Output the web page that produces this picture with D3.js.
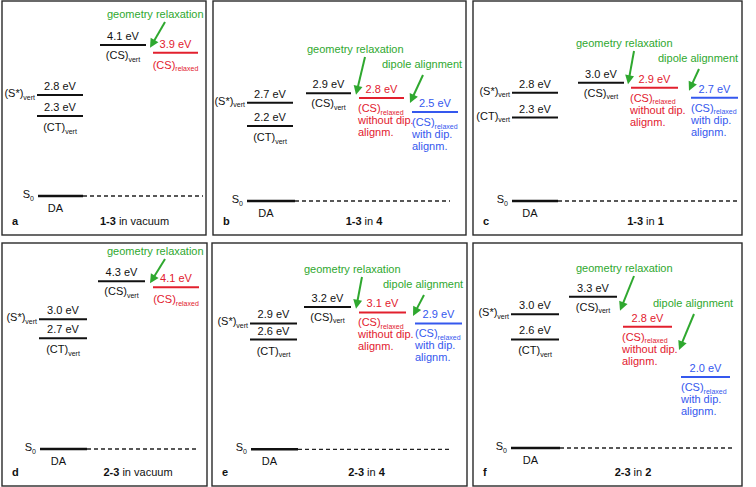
<!DOCTYPE html>
<html><head><meta charset="utf-8">
<script src="https://cdn.jsdelivr.net/npm/d3@7"></script>
<style>
body{margin:0;background:#fff}
svg{display:block}
text{font-family:"Liberation Sans", Arial, Helvetica, sans-serif;}
</style>
</head><body>
<svg id="chart" width="756" height="487"></svg>
<script>
// ---- data ----
const panelIds = ["a","b","c","d","e","f"];
const captionSystem = ["1-3","1-3","1-3","2-3","2-3","2-3"];
const captionMedium = ["vacuum","4","1","vacuum","4","2"];
const groundState = [0,0,0,0,0,0];
const sVert = [2.8,2.7,2.8,3.0,2.9,3.0];
const ctVert = [2.3,2.2,2.3,2.7,2.6,2.6];
const csVert = [4.1,2.9,3.0,4.3,3.2,3.3];
const csRelaxed = [3.9,2.8,2.9,4.1,3.1,2.8];
const csDipole = [null,2.5,2.7,null,2.9,2.0];
const energyBreaks = [0,2,3,4.5];

// ---- layout (per panel) ----
const layout = [
 {frame:[2,1,206,235], yr:[196,128.6,86.6,30], s0:[38,83,203], sc:[37,83], csv:[100,146], red:[153,198], blue:null, capX:134.5, ctLeft:false, geo:[107,18], dip:null},
 {frame:[213,1,466,235], yr:[201,135.4,88.7,28.7], s0:[247,295,450], sc:[247,293], csv:[306,351], red:[359,404], blue:[412,458], capX:364, ctLeft:false, geo:[307,53], dip:[382,68]},
 {frame:[473,1,742,235], yr:[201,132.4,82.8,22], s0:[512,558,738], sc:[512,558], csv:[578,624], red:[631,678], blue:[691,738], capX:645.5, ctLeft:true, geo:[576,47], dip:[658,62]},
 {frame:[2,243,207,486], yr:[449,382.3,319.3,275.5], s0:[40,87,199], sc:[39,87], csv:[98,145], red:[153,199], blue:null, capX:138, ctLeft:false, geo:[107,255], dip:null},
 {frame:[212,243,467,486], yr:[449.3,372,318,235], s0:[251,298,451], sc:[250,297], csv:[304,351], red:[359,406], blue:[415,462], capX:366.5, ctLeft:false, geo:[304,273], dip:[383,288]},
 {frame:[473,243,742,486], yr:[448,377,314.3,226], s0:[511,560,734], sc:[511,559], csv:[569,617], red:[623,672], blue:[681,730], capX:633, ctLeft:false, geo:[576,272], dip:[653,307]}
];

const RED = "#e2202e", BLUE = "#3558ee", GREEN = "#2fa82f", BLACK = "#111";
const FS = 11, SUB = 7;
const svg = d3.select("#chart");

function label(g, x, y, main, sub, anchor, color, extra){
  const t = g.append("text").attr("x", x).attr("y", y)
    .attr("text-anchor", anchor).attr("fill", color).attr("font-size", FS);
  t.append("tspan").text(main);
  if (sub) t.append("tspan").attr("font-size", SUB).attr("dy", 2.5).text(sub);
  return t;
}

function arrow(g, x1, y1, x2, y2){
  const dx = x2 - x1, dy = y2 - y1, L = Math.hypot(dx, dy);
  const ux = dx / L, uy = dy / L, hl = 9, hw = 4.5;
  const bx = x2 - ux * hl, by = y2 - uy * hl;
  g.append("line").attr("x1", x1).attr("y1", y1).attr("x2", bx + ux).attr("y2", by + uy)
    .attr("stroke", GREEN).attr("stroke-width", 2);
  g.append("path").attr("d", d3.line()([[x2, y2], [bx - uy * hw, by + ux * hw], [bx + uy * hw, by - ux * hw]]) + "Z")
    .attr("fill", GREEN);
}

panelIds.forEach((id, i) => {
  const L = layout[i];
  const g = svg.append("g");
  const [fx0, fy0, fx1, fy1] = L.frame;
  g.append("rect").attr("x", fx0).attr("y", fy0).attr("width", fx1 - fx0).attr("height", fy1 - fy0)
    .attr("fill", "none").attr("stroke", "#2a2a2a").attr("stroke-width", 1.4);

  const y = d3.scaleLinear().domain(energyBreaks).range(L.yr);

  function level(xr, e, color, w){
    g.append("line").attr("x1", xr[0]).attr("x2", xr[1]).attr("y1", y(e)).attr("y2", y(e))
      .attr("stroke", color).attr("stroke-width", w || 2);
  }

  // ground state
  const y0 = y(groundState[i]);
  g.append("line").attr("x1", L.s0[0]).attr("x2", L.s0[1]).attr("y1", y0).attr("y2", y0)
    .attr("stroke", BLACK).attr("stroke-width", 2.4);
  g.append("line").attr("x1", L.s0[1]).attr("x2", L.s0[2]).attr("y1", y0).attr("y2", y0)
    .attr("stroke", "#222").attr("stroke-width", 1.3).attr("stroke-dasharray", "4,3");
  label(g, L.s0[0] - 4, y0 + 2, "S", "0", "end", BLACK);
  label(g, (L.s0[0] + L.s0[1]) / 2 - 5, y0 + 16, "DA", null, "middle", BLACK);

  // S* and CT
  const scMid = (L.sc[0] + L.sc[1]) / 2;
  level(L.sc, sVert[i], BLACK);
  level(L.sc, ctVert[i], BLACK);
  label(g, scMid, y(sVert[i]) - 5, sVert[i].toFixed(1) + " eV", null, "middle", BLACK);
  label(g, scMid, y(ctVert[i]) - 5, ctVert[i].toFixed(1) + " eV", null, "middle", BLACK);
  label(g, L.sc[0] - 2, y(sVert[i]) + 2, "(S*)", "vert", "end", BLACK);
  if (L.ctLeft) label(g, L.sc[0] - 2, y(ctVert[i]) + 2, "(CT)", "vert", "end", BLACK);
  else label(g, scMid, y(ctVert[i]) + 15, "(CT)", "vert", "middle", BLACK);

  // CS vertical
  const csvMid = (L.csv[0] + L.csv[1]) / 2;
  level(L.csv, csVert[i], BLACK);
  label(g, csvMid, y(csVert[i]) - 5, csVert[i].toFixed(1) + " eV", null, "middle", BLACK);
  label(g, csvMid, y(csVert[i]) + 14, "(CS)", "vert", "middle", BLACK);

  // CS relaxed
  const redMid = (L.red[0] + L.red[1]) / 2;
  level(L.red, csRelaxed[i], RED);
  label(g, redMid, y(csRelaxed[i]) - 5, csRelaxed[i].toFixed(1) + " eV", null, "middle", RED);
  if (csDipole[i] == null) {
    label(g, redMid, y(csRelaxed[i]) + 16, "(CS)", "relaxed", "middle", RED);
  } else {
    const yr = y(csRelaxed[i]);
    label(g, L.red[0] - 1, yr + 14, "(CS)", "relaxed", "start", RED);
    label(g, L.red[0] - 1, yr + 26, "without dip.", null, "start", RED);
    label(g, L.red[0] - 1, yr + 38, "alignm.", null, "start", RED);
    // dipole aligned
    const blueMid = (L.blue[0] + L.blue[1]) / 2;
    level(L.blue, csDipole[i], BLUE);
    const yb = y(csDipole[i]);
    label(g, blueMid, yb - 5, csDipole[i].toFixed(1) + " eV", null, "middle", BLUE);
    label(g, L.blue[0], yb + 14, "(CS)", "relaxed", "start", BLUE);
    label(g, L.blue[0], yb + 26, "with dip.", null, "start", BLUE);
    label(g, L.blue[0], yb + 38, "alignm.", null, "start", BLUE);
    // dipole arrow
    label(g, L.dip[0], L.dip[1], "dipole alignment", null, "start", GREEN);
    arrow(g, L.dip[0] + 41, L.dip[1] + 7, L.blue[0] - 2, (yr + yb) / 2 - 2);
  }
  // geometry relaxation
  label(g, L.geo[0], L.geo[1], "geometry relaxation", null, "start", GREEN);
  arrow(g, L.geo[0] + 58, L.geo[1] + 4, L.red[0] - 3, (y(csVert[i]) + y(csRelaxed[i])) / 2 - 1);

  // panel letter and caption
  g.append("text").attr("x", fx0 + 10).attr("y", fy1 - 10).attr("font-size", FS)
    .attr("font-weight", "bold").attr("fill", BLACK).text(id);
  const cap = g.append("text").attr("x", L.capX).attr("y", fy1 - 10).attr("text-anchor", "middle")
    .attr("font-size", FS).attr("fill", BLACK);
  cap.append("tspan").attr("font-weight", "bold").text(captionSystem[i]);
  cap.append("tspan").text(" in ");
  const isCompound = captionMedium[i] !== "vacuum";
  cap.append("tspan").attr("font-weight", isCompound ? "bold" : "normal").text(captionMedium[i]);
});
</script>
</body></html>
